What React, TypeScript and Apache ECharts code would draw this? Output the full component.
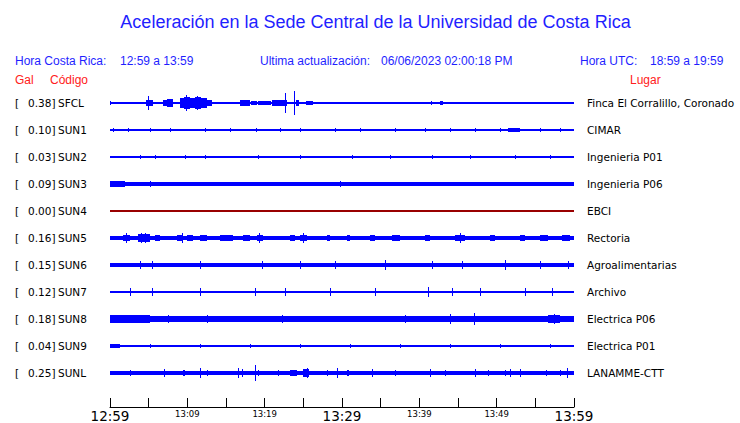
import React, { useEffect, useRef } from 'react';
import * as echarts from 'echarts';

// ---- data ----
const STATIONS = ['SFCL', 'SUN1', 'SUN2', 'SUN3', 'SUN4', 'SUN5', 'SUN6', 'SUN7', 'SUN8', 'SUN9', 'SUNL'];
const GALS = ['0.38', '0.10', '0.03', '0.09', '0.00', '0.16', '0.15', '0.12', '0.18', '0.04', '0.25'];
const PLACES = [
  'Finca El Corralillo, Coronado', 'CIMAR', 'Ingenieria P01', 'Ingenieria P06', 'EBCI', 'Rectoria',
  'Agroalimentarias', 'Archivo', 'Electrica P06', 'Electrica P01', 'LANAMME-CTT',
];
const TICK_LABELS = ['12:59', '13:09', '13:19', '13:29', '13:39', '13:49', '13:59'];
// minutes after 12:59, half-amplitude in relative units (row spacing = 10)
const BASE_AMP = [0.3, 0.37, 0.2, 0.75, 0.2, 0.9, 0.65, 0.55, 0.95, 0.37, 0.65];

// [startMin, endMin, halfAmp]
const SFCL = [
  [0, 0, 0.85], [2.7, 2.7, 0.55], [3.8, 4.1, 0.55], [4.7, 5.6, 1.2], [4.95, 4.95, 2.7], [5.6, 6.2, 0.55],
  [6.9, 7.4, 1.2], [7.4, 8.2, 1.6], [9.0, 9.6, 1.9], [9.6, 10.4, 2.4], [9.8, 9.8, 3.0], [10.4, 11.0, 2.0],
  [11.0, 11.8, 2.4], [11.2, 11.2, 2.7], [11.8, 12.5, 1.8], [12.5, 13.2, 1.0], [13.3, 16.6, 0.55], [16.8, 18.1, 1.0],
  [18.2, 19.0, 0.75], [19.2, 20.8, 0.6], [21.0, 22.9, 1.2], [22.6, 22.6, 3.8], [23.8, 23.8, 4.4],
  [24.0, 24.4, 1.0], [25.0, 25.0, 0.55], [25.4, 26.3, 0.6], [27.2, 27.2, 0.55], [28.7, 28.7, 0.55],
  [29.6, 29.6, 0.55], [31.5, 31.5, 0.55], [33.1, 33.1, 0.55], [35.8, 35.8, 0.55], [36.2, 36.2, 0.55],
  [39.4, 39.4, 0.4], [40.4, 40.4, 0.55], [40.8, 40.8, 0.55], [41.2, 41.2, 0.55], [41.5, 41.6, 0.75],
  [42.2, 42.2, 0.55], [42.7, 43.0, 0.9], [47.5, 47.5, 0.55], [48.7, 48.7, 0.55], [49.2, 49.2, 0.55],
  [50.0, 50.0, 0.55],
];
const SUN1 = [
  [0.4, 0.4, 0.75], [2.3, 2.3, 0.6], [5.2, 5.2, 0.75], [7.8, 7.8, 0.6], [12.3, 12.3, 0.75], [15.5, 15.5, 0.6],
  [18.9, 18.9, 0.75], [22.0, 22.0, 0.6], [24.6, 24.6, 0.75], [29.1, 29.1, 0.6], [32.3, 32.3, 0.6],
  [36.9, 36.9, 0.75], [40.7, 40.7, 0.6], [44.0, 44.0, 0.6], [47.2, 47.2, 0.6], [50.4, 50.4, 0.6],
  [51.5, 53.0, 0.8], [55.6, 55.6, 0.6], [58.2, 58.2, 0.6],
];
const SUN2 = [
  [0.3, 1.3, 0.55], [3.9, 3.9, 0.6], [5.8, 5.8, 0.6], [9.7, 9.7, 0.6], [12.3, 12.3, 0.6], [19.1, 19.1, 0.6],
  [24.6, 24.6, 0.6], [31.3, 31.3, 0.6], [36.2, 36.2, 0.6], [41.6, 41.6, 0.6], [46.6, 46.6, 0.6],
  [52.4, 52.4, 0.6], [56.9, 56.9, 0.6],
];
const SUN3 = [[0, 1.9, 1.1], [5.2, 5.2, 0.95], [29.7, 29.7, 0.95]];
const SUN4: number[][] = [];
const SUN5 = [
  [1.7, 2.6, 1.2], [2.1, 2.1, 1.85], [3.6, 5.2, 1.3], [4.0, 4.0, 1.85], [4.5, 4.5, 1.85], [5.8, 6.5, 1.15],
  [8.7, 9.3, 1.15], [9.3, 9.3, 1.85], [10.0, 10.7, 1.1], [11.6, 12.5, 1.1], [14.2, 15.9, 1.05],
  [17.2, 18.1, 1.2], [19.0, 19.8, 1.15], [19.3, 19.3, 1.85], [23.3, 23.9, 1.05], [24.6, 25.5, 1.25],
  [24.9, 24.9, 1.85], [28.0, 28.4, 1.1], [30.6, 31.0, 1.1], [33.6, 34.3, 1.1], [36.5, 37.5, 1.2],
  [40.7, 41.4, 1.1], [44.6, 45.9, 1.25], [45.2, 45.2, 1.7], [49.1, 49.8, 1.1], [53.0, 53.7, 1.05],
  [55.6, 56.6, 1.2], [58.4, 59.5, 1.2],
];
const SUN6 = [
  [3.9, 3.9, 1.5], [5.4, 5.4, 1.5], [11.6, 11.6, 1.5], [19.7, 19.7, 1.5], [24.6, 24.6, 1.5], [29.1, 29.1, 1.5],
  [35.6, 35.6, 2.0], [41.6, 41.6, 1.5], [45.5, 45.5, 1.5], [51.1, 51.1, 1.8], [55.6, 55.6, 1.5], [59.2, 59.2, 1.5],
];
const SUN7 = [
  [2.6, 2.6, 1.3], [5.4, 5.4, 1.3], [11.6, 11.6, 1.3], [18.8, 18.8, 1.3], [22.6, 22.6, 1.3], [28.4, 28.4, 1.3],
  [34.3, 34.3, 1.3], [41.1, 41.1, 2.0], [44.2, 44.2, 1.3], [47.8, 47.8, 1.3], [53.7, 53.7, 1.3], [57.2, 57.2, 1.3],
];
const SUN8 = [
  [0, 5.2, 1.3], [0.6, 0.6, 1.6], [3.9, 3.9, 1.6], [7.4, 7.8, 1.25], [7.5, 7.5, 1.6], [12.6, 13.0, 1.25],
  [12.5, 12.5, 1.6], [16.8, 17.8, 1.25], [21.9, 22.9, 1.25], [22.2, 22.2, 1.6], [31.0, 31.7, 1.2],
  [34.5, 34.9, 1.15], [38.1, 38.1, 1.5], [44.0, 44.0, 1.8], [47.1, 47.1, 2.2], [56.6, 58.2, 1.4], [57.4, 57.4, 1.7],
];
const SUN9 = [
  [0, 1.3, 0.75], [5.2, 5.2, 0.75], [11.6, 11.6, 0.75], [18.1, 18.1, 0.75], [24.6, 24.6, 0.75],
  [31.0, 31.0, 0.75], [37.5, 37.5, 0.75], [44.0, 44.0, 0.75], [50.4, 50.4, 0.75], [56.9, 56.9, 0.75],
];
const SUNL = [
  [2.6, 2.6, 0.95], [4.1, 4.7, 0.75], [7.0, 7.0, 1.5], [8.0, 8.0, 0.75], [9.4, 9.7, 0.95], [11.6, 11.6, 1.85],
  [12.6, 12.6, 0.95], [16.5, 16.5, 2.0], [17.1, 17.1, 1.65], [18.7, 18.7, 3.0], [19.1, 19.1, 0.95],
  [21.7, 21.7, 1.1], [23.3, 24.2, 0.95], [25.0, 25.7, 1.3], [25.5, 25.5, 1.85], [28.0, 28.0, 1.1],
  [28.7, 28.7, 0.75], [29.3, 29.3, 1.85], [30.6, 30.9, 1.1], [33.9, 33.9, 1.3], [36.9, 36.9, 1.1],
  [41.4, 41.4, 1.3], [43.3, 43.3, 1.1], [47.2, 47.2, 1.3], [48.9, 48.9, 1.1], [51.1, 51.1, 1.1],
  [51.7, 51.7, 1.3], [53.0, 53.0, 1.5], [56.4, 56.4, 1.1], [58.2, 58.2, 1.1], [59.1, 59.1, 1.85],
];
const EVENTS = [SFCL, SUN1, SUN2, SUN3, SUN4, SUN5, SUN6, SUN7, SUN8, SUN9, SUNL];
const TRACE_COLORS = ['#0000ff', '#0000ff', '#0000ff', '#0000ff', '#990000', '#0000ff', '#0000ff', '#0000ff', '#0000ff', '#0000ff', '#0000ff'];

const BLUE = '#1f1fff';
const RED = '#ff2020';

export default function App() {
  const ref = useRef<HTMLDivElement>(null);
  useEffect(() => {
    const chart = echarts.init(ref.current!, null, { renderer: 'svg' });
    const segs: number[][] = [];
    STATIONS.forEach((_, i) => {
      const row = i * 10;
      segs.push([0, 60, row, BASE_AMP[i], i]);
      EVENTS[i].forEach((e) => segs.push([e[0], e[1], row, e[2], i]));
    });

    const txt = (text: string, x: number, y: number, fill: string, font: string, align = 'left') => ({
      type: 'text',
      x,
      y,
      silent: true,
      style: { text, fill, font, align, textAlign: align, verticalAlign: 'middle', textVerticalAlign: 'middle' },
    });
    const hdrFont = '12px "Liberation Sans", Arial, sans-serif';
    const lblFont = '10.5px "DejaVu Sans", sans-serif';
    const graphics: any[] = [
      txt('Aceleración en la Sede Central de la Universidad de Costa Rica', 375.5, 22, BLUE, '18px "Liberation Sans", Arial, sans-serif', 'center'),
      txt('Hora Costa Rica:', 15, 61, BLUE, hdrFont),
      txt('12:59 a 13:59', 120, 61, BLUE, hdrFont),
      txt('Ultima actualización:', 260, 61, BLUE, hdrFont),
      txt('06/06/2023 02:00:18 PM', 381, 61, BLUE, hdrFont),
      txt('Hora UTC:', 580, 61, BLUE, hdrFont),
      txt('18:59 a 19:59', 650, 61, BLUE, hdrFont),
      txt('Gal', 15, 80, RED, hdrFont),
      txt('Código', 50, 80, RED, hdrFont),
      txt('Lugar', 630, 80, RED, hdrFont),
    ];
    STATIONS.forEach((s, i) => {
      const y = 103 + i * 27;
      graphics.push(txt('[', 15, y, '#000', lblFont));
      graphics.push(txt(GALS[i] + ']', 28, y, '#000', lblFont));
      graphics.push(txt(s, 58, y, '#000', lblFont));
      graphics.push(txt(PLACES[i], 587, y, '#000', lblFont));
    });

    const option: any = {
      animation: false,
      backgroundColor: '#ffffff',
      grid: [
        { left: 110, width: 464, top: 89.5, height: 297 },
        { left: 110, width: 464, top: 400, height: 9 },
      ],
      xAxis: [
        { type: 'value', gridIndex: 0, min: 0, max: 60, show: false },
        {
          type: 'value', gridIndex: 1, min: 0, max: 60, interval: 5, position: 'bottom',
          axisLine: { show: true, lineStyle: { color: '#000', width: 1 } },
          axisTick: { show: true, inside: true, length: 9, lineStyle: { color: '#000', width: 1 } },
          splitLine: { show: false },
          axisLabel: {
            show: true, margin: 2, showMinLabel: true, showMaxLabel: true,
            formatter: (v: number) => {
              if (v % 10 !== 0) return '';
              const l = TICK_LABELS[v / 10];
              return v % 30 === 0 ? '{big|' + l + '}' : '{small|' + l + '}';
            },
            rich: {
              big: { fontSize: 13.5, fontFamily: '"DejaVu Sans", sans-serif', color: '#000', lineHeight: 14 },
              small: { fontSize: 8.5, fontFamily: '"DejaVu Sans", sans-serif', color: '#000', lineHeight: 10 },
            },
          },
        },
      ],
      yAxis: [
        { type: 'value', gridIndex: 0, min: -5, max: 105, inverse: true, show: false },
        { type: 'value', gridIndex: 1, min: 0, max: 1, show: false },
      ],
      graphic: graphics,
      series: [
        {
          type: 'custom',
          xAxisIndex: 0,
          yAxisIndex: 0,
          clip: false,
          silent: true,
          encode: { x: [0, 1], y: [2] },
          data: segs,
          renderItem: (params: any, api: any) => {
            const t0 = api.value(0), t1 = api.value(1), r = api.value(2), a = api.value(3), si = api.value(4);
            const p0 = api.coord([t0, r - a]);
            const p1 = api.coord([t1, r + a]);
            let x0 = Math.round(Math.min(p0[0], p1[0]));
            let x1 = Math.round(Math.max(p0[0], p1[0]));
            if (x1 - x0 < 1) x1 = x0 + 1;
            const yc = (p0[1] + p1[1]) / 2;
            const half = Math.abs(p1[1] - p0[1]) / 2;
            let y0 = Math.round(yc - half);
            let y1 = Math.round(yc + half);
            if (y1 - y0 < 1) { y0 = Math.floor(yc); y1 = y0 + 1; }
            return { type: 'rect', shape: { x: x0, y: y0, width: x1 - x0, height: y1 - y0 }, style: { fill: TRACE_COLORS[si] } };
          },
        },
        { type: 'line', xAxisIndex: 1, yAxisIndex: 1, data: [], silent: true },
      ],
    };
    chart.setOption(option);
    return () => chart.dispose();
  }, []);
  return <div ref={ref} style={{ position: 'absolute', left: 0, top: 0, width: 740, height: 423 }} />;
}
